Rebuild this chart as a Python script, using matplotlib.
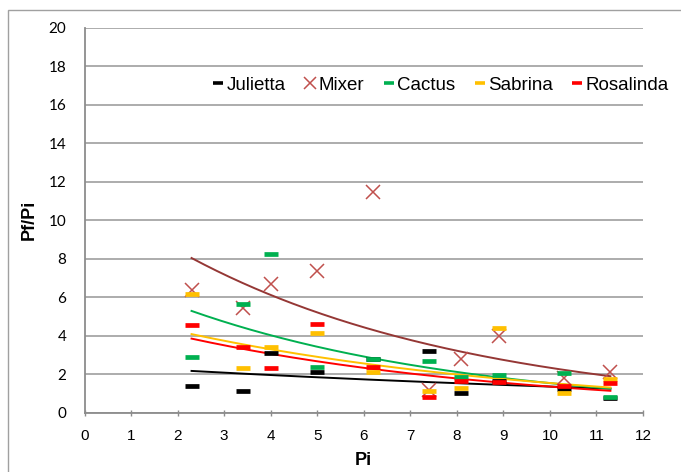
import numpy as np
import matplotlib.pyplot as plt
from matplotlib.patches import Rectangle
from matplotlib.lines import Line2D

pi = [2.3, 3.4, 4.0, 5.0, 6.2, 7.4, 8.1, 8.9, 10.3, 11.3]
julietta = [1.39, 1.14, 3.08, 2.14, 2.78, 3.23, 1.04, 1.67, 1.25, 0.78]
mixer = [6.37, 5.45, 6.66, 7.36, 11.45, 1.18, 2.80, 4.00, 1.79, 2.12]
cactus = [2.89, 5.67, 8.23, 2.35, 2.80, 2.66, 1.88, 1.96, 2.05, 0.83]
sabrina = [6.18, 2.31, 3.41, 4.14, 2.10, 1.14, 1.30, 4.40, 1.04, 1.74]
rosalinda = [4.56, 3.39, 2.31, 4.63, 2.36, 0.83, 1.67, 1.61, 1.40, 1.53]

names = ["Julietta", "Mixer", "Cactus", "Sabrina", "Rosalinda"]
series = [julietta, mixer, cactus, sabrina, rosalinda]
marker_colors = ["#000000", "#C0504D", "#00B050", "#FFC000", "#FF0000"]
trend_colors = ["#000000", "#953735", "#00B050", "#FFC000", "#FF0000"]

W, H = 681, 472
fig = plt.figure(figsize=(W / 100, H / 100), dpi=100)
fig.patches.append(Rectangle((8 / W, -0.1), 1.2, 1 - 10 / H + 0.1,
                             transform=fig.transFigure, fill=False,
                             edgecolor="#A0A0A0", lw=1.0, zorder=0))
ax = fig.add_axes([84.5 / W, 1 - 412.7 / H, (643 - 84.5) / W, (412.7 - 27.7) / H])

x = np.array(pi)
xs = np.linspace(min(pi), max(pi), 200)
handles = []
for name, ys, mc, tc in zip(names, series, marker_colors, trend_colors):
    y = np.array(ys)
    b, a = np.polyfit(x, np.log(y), 1)
    ax.plot(xs, np.exp(a) * np.exp(b * xs), color=tc, lw=1.4, zorder=2)
    if name == "Mixer":
        ax.plot(x, y, ls="none", marker="x", ms=10, mew=1.1, color=mc, zorder=3)
        h = Line2D([], [], ls="none", marker="x", ms=8, mew=1.1, color=mc)
    else:
        ax.plot(x, y, ls="none", marker="_", ms=10, mew=3.4, color=mc, zorder=3)
        h = Line2D([], [], ls="none", marker="_", ms=7, mew=2.6, color=mc)
    handles.append(h)

ax.set_xlim(0, 12)
ax.set_ylim(0, 20)
ax.set_xticks(range(0, 13))
ax.set_yticks(range(0, 21, 2))
ax.grid(axis="y", color="#A6A6A6", lw=1.3)
ax.set_axisbelow(True)
for s in ["top", "right"]:
    ax.spines[s].set_visible(False)
for s in ["left", "bottom"]:
    ax.spines[s].set_color("#8C8C8C")
    ax.spines[s].set_linewidth(1.3)
ax.tick_params(axis="x", direction="inout", length=5, width=1, color="#8C8C8C",
               pad=9, labelsize=11)
ax.tick_params(axis="y", length=0, pad=13, labelsize=11)
for lab in ax.get_xticklabels():
    lab.set_fontfamily("Liberation Sans")
for lab in ax.get_yticklabels():
    lab.set_fontfamily("Lato")

ax.set_xlabel("Pi", fontsize=13, fontweight="bold", family="Liberation Sans", labelpad=7)
ax.set_ylabel("Pf/Pi", fontsize=13, fontweight="bold", family="Liberation Sans", labelpad=8)

fig.legend(handles, names, loc="center", bbox_to_anchor=(441 / W, 1 - 85 / H),
           ncol=5, frameon=False, handlelength=0.6, handletextpad=0.15,
           columnspacing=1.0, prop={"family": "Liberation Sans", "size": 13.5})

fig.savefig("out.png", dpi=100)
